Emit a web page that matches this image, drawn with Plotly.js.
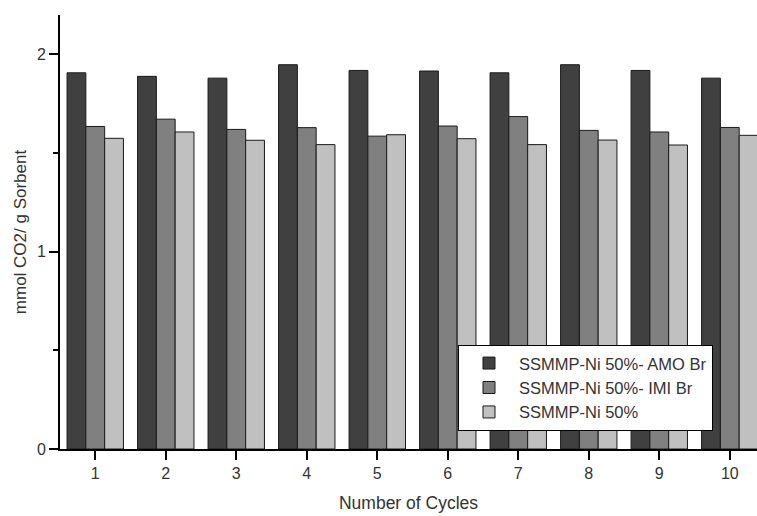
<!DOCTYPE html>
<html>
<head>
<meta charset="utf-8">
<script src="https://cdn.plot.ly/plotly-3.0.1.min.js"></script>
<style>html,body{margin:0;padding:0;background:#fff;}#chart{width:757px;height:516px;}</style>
</head>
<body>
<div id="chart"></div>
<script>
const cycles = [1, 2, 3, 4, 5, 6, 7, 8, 9, 10];
const seriesNames = ["SSMMP-Ni 50%- AMO Br", "SSMMP-Ni 50%- IMI Br", "SSMMP-Ni 50%"];
const amoBr = [1.907, 1.889, 1.880, 1.948, 1.919, 1.916, 1.907, 1.948, 1.919, 1.880];
const imiBr = [1.635, 1.672, 1.620, 1.629, 1.586, 1.637, 1.685, 1.615, 1.607, 1.630];
const plain = [1.575, 1.607, 1.565, 1.543, 1.593, 1.573, 1.543, 1.566, 1.541, 1.590];
const seriesColors = ["#404040", "#808080", "#c0c0c0"];
const yTicks = [0, 1, 2];

const allValues = [amoBr, imiBr, plain];
const traces = allValues.map((vals, i) => ({
  type: "bar",
  x: cycles,
  y: vals,
  name: seriesNames[i],
  marker: {color: seriesColors[i], line: {color: "#1a1a1a", width: 1}}
}));

const font = {family: "Liberation Sans, Arial, sans-serif", color: "#333", size: 16};

const layout = {
  width: 757, height: 516,
  margin: {l: 60, r: 0, t: 15, b: 67},
  paper_bgcolor: "#fff", plot_bgcolor: "#fff",
  barmode: "group", bargap: 0.2, bargroupgap: 0,
  font: font,
  showlegend: true,
  legend: {
    x: 0.571, y: 0.24, xanchor: "left", yanchor: "top",
    bgcolor: "#fff", bordercolor: "#000", borderwidth: 1,
    font: {family: font.family, color: "#333", size: 16.5},
    tracegroupgap: 0, itemwidth: 50
  },
  xaxis: {
    range: [0.5, 10.386],
    tickmode: "array", tickvals: cycles, ticktext: cycles.map(String),
    ticks: "outside", ticklen: 9, tickwidth: 2, tickcolor: "#000",
    showline: true, linecolor: "#000", linewidth: 2,
    showgrid: false, zeroline: false,
    tickfont: {size: 16, color: "#333"},
    title: {text: "Number of Cycles", font: {size: 17.5, color: "#333"}, standoff: 16}
  },
  yaxis: {
    range: [0, 2.2],
    tickmode: "array", tickvals: yTicks, ticktext: yTicks.map(String),
    ticks: "outside", ticklen: 9, tickwidth: 2, tickcolor: "#000",
    minor: {dtick: 0.5, tick0: 0, ticks: "outside", ticklen: 5, tickwidth: 2, tickcolor: "#000", showgrid: false},
    showline: true, linecolor: "#000", linewidth: 2,
    showgrid: false, zeroline: false,
    tickfont: {size: 16, color: "#333"},
    title: {text: "mmol CO2/ g Sorbent", font: {size: 17, color: "#333"}, standoff: 6}
  }
};

Plotly.newPlot("chart", traces, layout, {displayModeBar: false, staticPlot: true});
</script>
</body>
</html>
